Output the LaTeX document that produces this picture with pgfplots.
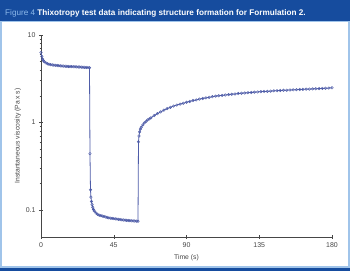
\documentclass[border=0pt]{standalone}
\usepackage{pgfplots}
\pgfplotsset{compat=1.18}
\usepackage{fontspec}
\setmainfont{Liberation Sans}
\definecolor{hdr}{RGB}{22,76,158}
\definecolor{lb}{RGB}{160,196,234}
\definecolor{figblue}{RGB}{140,184,234}
\definecolor{dat}{RGB}{78,92,168}
\definecolor{axg}{RGB}{70,70,70}
\begin{document}
\begin{tikzpicture}[x=1bp,y=1bp]
\useasboundingbox (0,0) rectangle (350,271);
\fill[hdr] (0,250) rectangle (350,271);
\fill[hdr] (0,0) rectangle (350,3);
\fill[lb] (0,3) rectangle (350,250);
\fill[white] (2.5,5) rectangle (347.5,249);
\node[anchor=base west, inner sep=0, font=\fontsize{8.2}{10}\selectfont] at (5,255.5) {\textcolor{figblue}{Figure 4} \textcolor{white}{\textbf{Thixotropy test data indicating structure formation for Formulation 2.}}};
\begin{axis}[at={(41bp,34bp)}, anchor=south west, width=291bp, height=202bp, scale only axis,
  ymode=log, xmin=0, xmax=180, ymin=0.049, ymax=10,
  axis x line=bottom, axis y line=left, axis line style={axg,-, line width=0.5pt},
  xtick={0,45,90,135,180}, ytick={0.1,1,10}, yticklabels={0.1,1,10},
  minor ytick={}, tick align=center, major tick length=4bp, tick style={axg, line width=0.5pt},
  ticklabel style={font=\fontsize{7}{8}\selectfont, text=axg},
  /pgf/number format/assume math mode=true,
  xlabel={Time (s)}, ylabel={Instantaneous viscosity (Pa x s)},
  label style={font=\fontsize{6.8}{8}\selectfont, text=axg},
  xlabel style={yshift=0bp}, ylabel style={yshift=-2bp},
  clip=false]
\addplot[dat, line width=0.8pt, mark=o, mark size=1.3pt, mark options={fill=white!85!dat, line width=0.45pt}] coordinates {
(0,6.3) (0.5,5.7) (1,5.3) (1.5,5.1) (2,4.95) (3,4.8) (4,4.7) (5,4.63) (6,4.58) (7,4.55) (8,4.52) (9,4.5) (10,4.48) (11,4.46) (12,4.44) (13,4.43) (14,4.41) (15,4.4) (16,4.38) (17,4.37) (18,4.36) (19,4.35) (20,4.34) (21,4.33) (22,4.32) (23,4.31) (24,4.3) (25,4.29) (26,4.28) (27,4.27) (28,4.26) (29,4.25) (30,4.22)
(30.3,0.44) (30.6,0.17) (30.9,0.14) (31.2,0.125) (31.6,0.115) (32,0.107) (32.5,0.101) (33,0.097) (34,0.092) (35,0.089) (36,0.087) (37,0.086) (38,0.085) (39,0.084) (40,0.083) (41,0.082) (42,0.081) (43,0.0805) (44,0.08) (45,0.0795) (46,0.079) (47,0.0785) (48,0.078) (49,0.0775) (50,0.077) (51,0.0767) (52,0.0764) (53,0.076) (54,0.0757) (55,0.0754) (56,0.075) (57,0.0748) (58,0.0746) (59,0.0744) (60,0.0742)
(60.3,0.6) (60.6,0.7) (61,0.78) (61.5,0.84) (62,0.88) (63,0.94) (64,0.99) (65,1.03) (66,1.07) (67,1.1) (68,1.13) (70,1.2) (72,1.26) (74,1.32) (76,1.38) (78,1.44) (80,1.49) (82,1.54) (84,1.58) (86,1.62) (88,1.66) (90,1.7) (92,1.74) (94,1.78) (96,1.81) (98,1.85) (100,1.88) (102,1.91) (104,1.94) (106,1.97) (108,2.0) (110,2.02) (112,2.04) (114,2.06) (116,2.08) (118,2.1) (120,2.12) (122,2.14) (124,2.16) (126,2.17) (128,2.19) (130,2.2) (132,2.22) (134,2.23) (136,2.25) (138,2.26) (140,2.27) (142,2.28) (144,2.3) (146,2.31) (148,2.32) (150,2.33) (152,2.34) (154,2.35) (156,2.36) (158,2.37) (160,2.38) (162,2.39) (164,2.4) (166,2.41) (168,2.42) (170,2.43) (172,2.44) (174,2.45) (176,2.46) (178,2.47) (180,2.49)
};
\end{axis}
\end{tikzpicture}
\end{document}
